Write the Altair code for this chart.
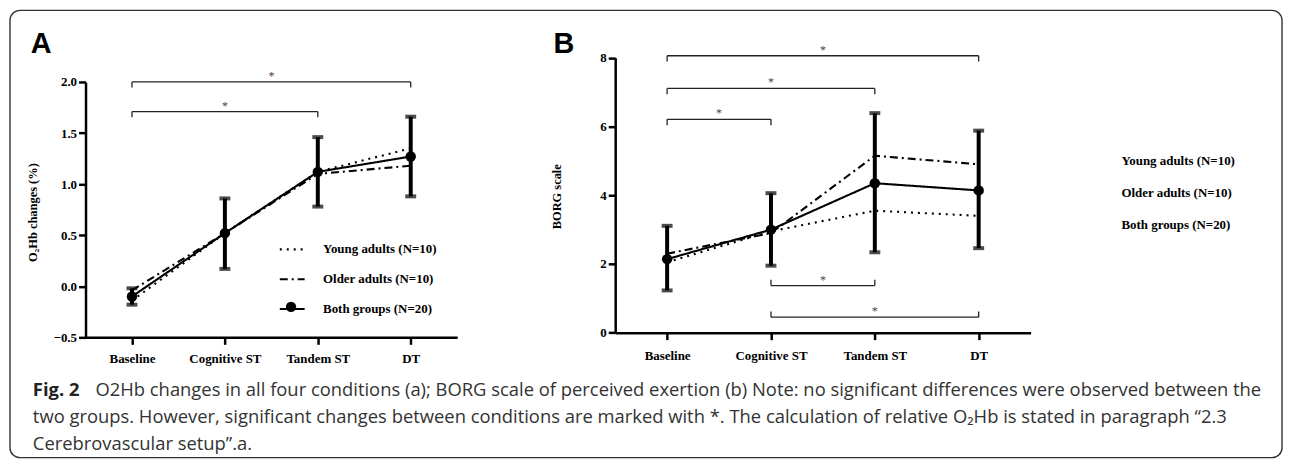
import json
import pandas as pd
import altair as alt

# ---------------- data ----------------
categories = ["Baseline", "Cognitive ST", "Tandem ST", "DT"]
groups = ["Young adults (N=10)", "Older adults (N=10)", "Both groups (N=20)"]

o2hb_young = [-0.14, 0.52, 1.12, 1.35]
o2hb_older = [-0.04, 0.52, 1.10, 1.18]
o2hb_both = [-0.10, 0.52, 1.12, 1.27]
o2hb_both_lo = [-0.18, 0.17, 0.78, 0.88]
o2hb_both_hi = [-0.02, 0.86, 1.46, 1.66]

borg_young = [2.05, 2.95, 3.55, 3.40]
borg_older = [2.30, 2.90, 5.15, 4.90]
borg_both = [2.14, 3.00, 4.35, 4.14]
borg_both_lo = [1.23, 1.95, 2.34, 2.46]
borg_both_hi = [3.11, 4.06, 6.39, 5.88]

# significance brackets: (from condition, to condition, level, end-tick length)
brackets_a = [(0, 3, 2.00, -0.055), (0, 2, 1.71, -0.055)]
brackets_b = [(0, 3, 8.06, -0.17), (0, 2, 7.11, -0.17), (0, 1, 6.21, -0.17),
              (1, 2, 1.37, 0.17), (1, 3, 0.45, 0.17)]

a_ticks = [-0.5, 0.0, 0.5, 1.0, 1.5, 2.0]
b_ticks = [0, 2, 4, 6, 8]

caption_bold = "Fig. 2"
caption_lines = [
    "O2Hb changes in all four conditions (a); BORG scale of perceived exertion (b) Note: no significant differences were observed between the",
    "two groups. However, significant changes between conditions are marked with *. The calculation of relative O\u2082Hb is stated in paragraph \u201c2.3",
    "Cerebrovascular setup\u201d.a.",
]

dashes = [[2, 5], [8, 4, 2, 4], [1, 0]]

SERIF = "Liberation Serif"
H = 453
W = 1285

label_expr = json.dumps(categories) + "[datum.value]"


def long_lines(young, older, both):
    rows = []
    for g, vals in zip(groups, [young, older, both]):
        for i, v in enumerate(vals):
            rows.append({"i": i, "group": g, "v": v})
    return pd.DataFrame(rows)


def bracket_frames(brs):
    horiz = pd.DataFrame([{"a": a, "b": b, "level": lv, "mid": (a + b) / 2} for a, b, lv, t in brs])
    ends = []
    for a, b, lv, t in brs:
        for at in (a, b):
            ends.append({"at": at, "level": lv, "end": lv + t})
    return horiz, pd.DataFrame(ends)


def panel(young, older, both, lo, hi, brs, sx, sy, xaxis, yaxis, dash_legend, shape_legend):
    def X(f):
        return alt.X(f, scale=sx, axis=xaxis)

    def Y(f):
        return alt.Y(f, scale=sy, axis=yaxis)

    lines = alt.Chart(long_lines(young, older, both)).mark_line(color="black", strokeWidth=2.1).encode(
        x=X("i:Q"),
        y=Y("v:Q"),
        strokeDash=alt.StrokeDash("group:N", scale=alt.Scale(domain=groups, range=dashes), legend=dash_legend),
        order="i:Q",
    )
    err_df = pd.DataFrame({"i": list(range(4)), "lo": lo, "hi": hi, "v": both})
    err = alt.Chart(err_df).mark_rule(color="black", strokeWidth=4).encode(
        x=X("i:Q"), y=Y("lo:Q"), y2="hi:Q",
    )
    caps_df = pd.DataFrame({"i": list(range(4)) * 2, "v": list(lo) + list(hi)})
    caps = alt.Chart(caps_df).mark_tick(orient="horizontal", size=11, thickness=4, color="black").encode(
        x=X("i:Q"), y=Y("v:Q"),
    )
    pts_df = pd.DataFrame({"i": list(range(4)), "v": both, "marker": [groups[2]] * 4})
    if shape_legend is not None:
        pts = alt.Chart(pts_df).mark_point(filled=True, size=110, color="black", opacity=1).encode(
            x=X("i:Q"), y=Y("v:Q"),
            shape=alt.Shape("marker:N", scale=alt.Scale(domain=[groups[2]], range=["circle"]),
                            legend=shape_legend),
        )
    else:
        pts = alt.Chart(pts_df).mark_point(filled=True, size=110, color="black", opacity=1, shape="circle").encode(
            x=X("i:Q"), y=Y("v:Q"),
        )
    horiz, ends = bracket_frames(brs)
    br = alt.Chart(horiz).mark_rule(color="#222", strokeWidth=1.3).encode(
        x=X("a:Q"), x2="b:Q", y=Y("level:Q"),
    )
    br_ends = alt.Chart(ends).mark_rule(color="#222", strokeWidth=1.3).encode(
        x=X("at:Q"), y=Y("level:Q"), y2="end:Q",
    )
    stars = alt.Chart(horiz).mark_text(text="*", font=SERIF, fontSize=12, color="#444",
                                       baseline="middle", dy=-6).encode(
        x=X("mid:Q"), y=Y("level:Q"),
    )
    return alt.layer(lines, err, caps, pts, br, br_ends, stars)


axis_style = dict(
    grid=False, domainColor="black", domainWidth=2.5, tickColor="black", tickWidth=2.5, tickSize=7,
    labelFont=SERIF, labelFontWeight="bold", labelFontSize=13, labelColor="black",
    titleFont=SERIF, titleFontWeight="bold", titleFontSize=12.5, titleColor="black",
)

# ---------- Panel A ----------
sxA = alt.Scale(domain=[-0.5, 3.5], range=[78, 452], nice=False, zero=False)
syA = alt.Scale(domain=[-0.5, 2.0], range=[330, 73], nice=False, zero=False)
xaxA = alt.Axis(orient="bottom", offset=330 - H, values=[0, 1, 2, 3], labelExpr=label_expr, title=None,
                labelPadding=8, **axis_style)
yaxA = alt.Axis(orient="left", offset=-78, values=a_ticks, format=".1f", title="O\u2082Hb changes (%)",
                titleX=-53, titleY=204, titleBaseline="middle", titleAngle=270, labelPadding=2, **axis_style)
legA = alt.Legend(orient="none", legendX=272, legendY=227.5, title=None, padding=0,
                  symbolType="stroke", symbolSize=625, symbolStrokeWidth=2.1, symbolStrokeColor="black",
                  labelFont=SERIF, labelFontWeight="bold", labelFontSize=13, labelColor="black",
                  labelOffset=17, rowPadding=9)
shapeLegA = alt.Legend(orient="none", legendX=279.3, legendY=293.8, title=None, padding=0,
                       symbolSize=110, symbolFillColor="black", symbolStrokeColor="black",
                       symbolStrokeWidth=0, labelExpr="''", labelFontSize=1)
panelA = panel(o2hb_young, o2hb_older, o2hb_both, o2hb_both_lo, o2hb_both_hi, brackets_a,
               sxA, syA, xaxA, yaxA, legA, shapeLegA)

# ---------- Panel B ----------
sxB = alt.Scale(domain=[-0.5, 3.5], range=[611, 1029], nice=False, zero=False)
syB = alt.Scale(domain=[0, 8], range=[325.3, 48.7], nice=False, zero=False)
xaxB = alt.Axis(orient="bottom", offset=325.3 - H, values=[0, 1, 2, 3], labelExpr=label_expr, title=None,
                labelPadding=10, **axis_style)
yaxB = alt.Axis(orient="left", offset=-611, values=b_ticks, format="d", title="BORG scale",
                titleX=-59, titleY=188, titleBaseline="middle", titleAngle=270, labelPadding=2, **axis_style)
legB = alt.Legend(orient="none", legendX=1076.4, legendY=139.5, title=None, padding=0,
                  symbolType="stroke", symbolSize=625, symbolOpacity=0,
                  labelFont=SERIF, labelFontWeight="bold", labelFontSize=13, labelColor="black",
                  labelOffset=17, rowPadding=11)
panelB = panel(borg_young, borg_older, borg_both, borg_both_lo, borg_both_hi, brackets_b,
               sxB, syB, xaxB, yaxB, legB, None)

# ---------- decorations ----------
one = pd.DataFrame({"k": [0]})
box = alt.Chart(one).mark_rect(cornerRadius=10, fillOpacity=0, stroke="#333", strokeWidth=1.4).encode(
    x=alt.value(2), x2=alt.value(1282), y=alt.value(1), y2=alt.value(451)
)
labA = alt.Chart(one).mark_text(text="A", font="Liberation Sans", fontWeight="bold", fontSize=29,
                                align="left", baseline="alphabetic", color="black").encode(
    x=alt.value(23), y=alt.value(44))
labB = alt.Chart(one).mark_text(text="B", font="Liberation Sans", fontWeight="bold", fontSize=29,
                                align="left", baseline="alphabetic", color="black").encode(
    x=alt.value(549), y=alt.value(43.7))

CAP_FONT = "Open Sans"
CAP_SIZE = 18.5
cap_bold = alt.Chart(one).mark_text(text=caption_bold, font=CAP_FONT, fontWeight="bold", fontSize=CAP_SIZE,
                                    align="left", baseline="alphabetic", color="#222").encode(
    x=alt.value(25), y=alt.value(389))
cap_layers = [cap_bold]
for (xx, yy), txt in zip([(88, 389), (25, 416), (25, 443)], caption_lines):
    cap_layers.append(
        alt.Chart(one).mark_text(text=txt, font=CAP_FONT, fontSize=CAP_SIZE, align="left",
                                 baseline="alphabetic", color="#333").encode(
            x=alt.value(xx), y=alt.value(yy))
    )

chart = alt.layer(box, panelA, panelB, labA, labB, *cap_layers).resolve_scale(
    x="independent", y="independent", strokeDash="independent", shape="independent"
).resolve_legend(strokeDash="independent", shape="independent").properties(
    width=W, height=H, autosize=alt.AutoSizeParams(type="none"), padding=0
).configure_view(stroke="transparent")

chart.save("out.html", embed_options={"renderer": "svg", "actions": False})
